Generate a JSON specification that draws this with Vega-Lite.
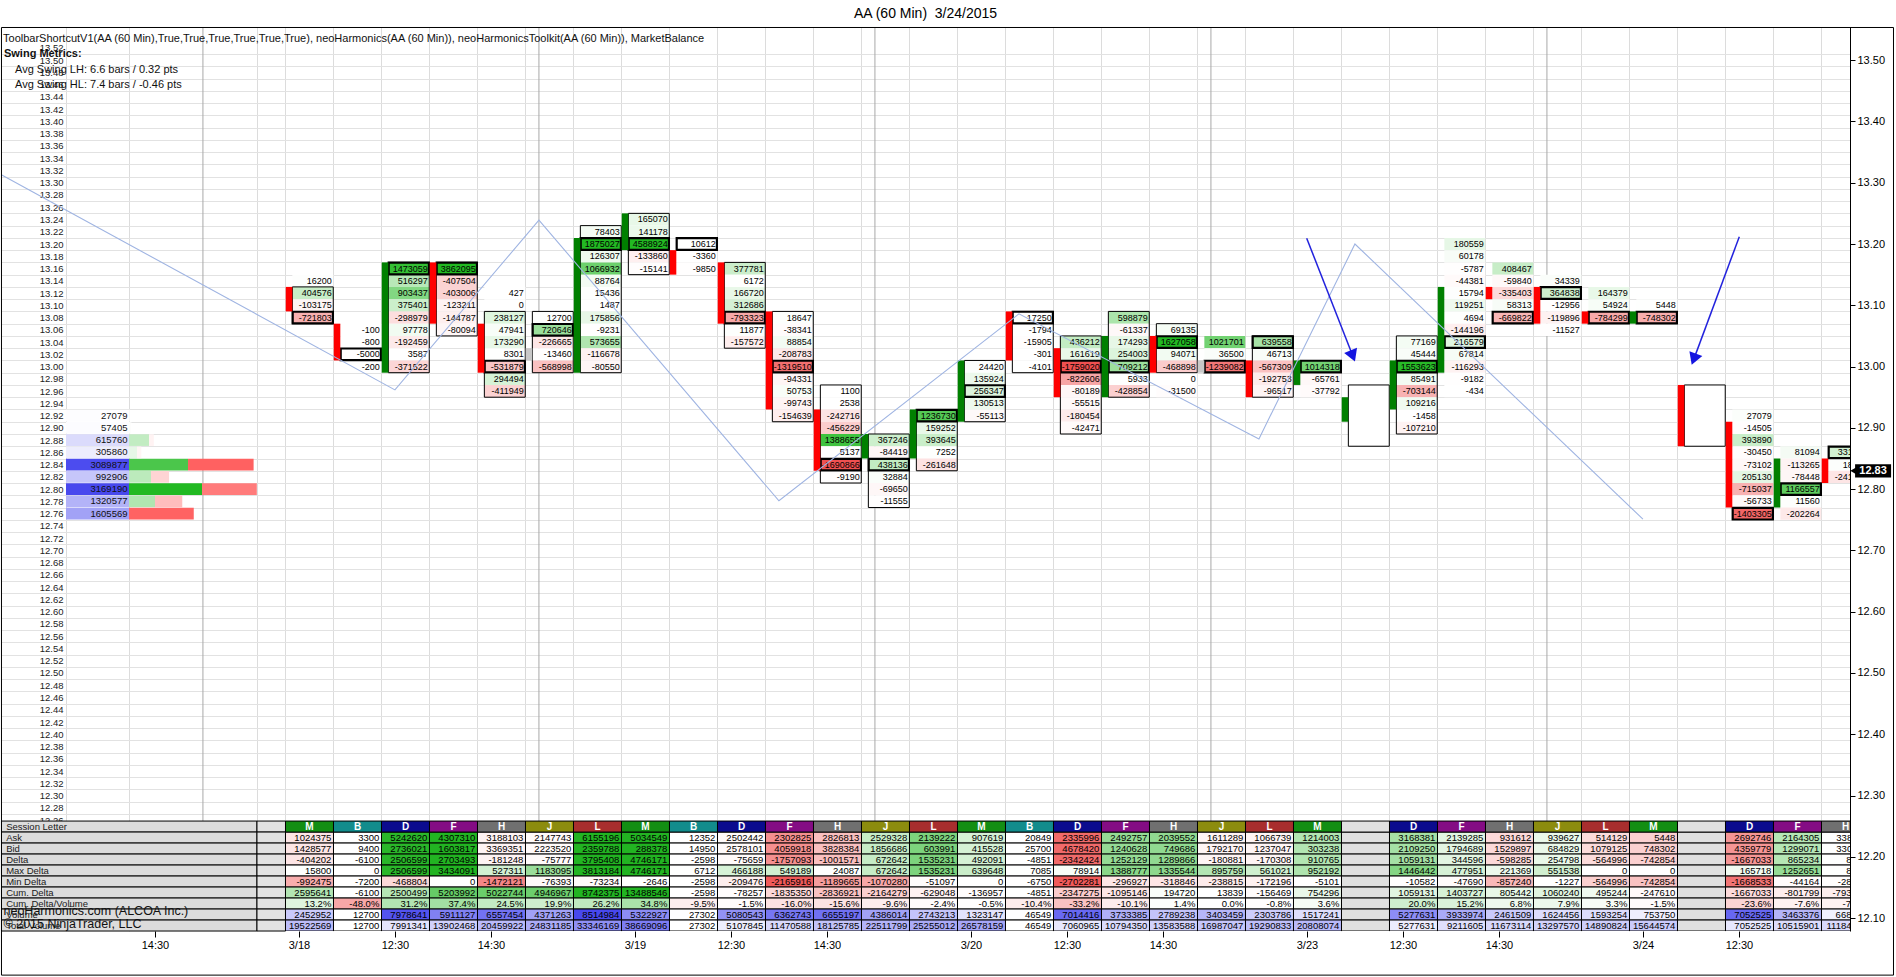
{
"$schema": "https://vega.github.io/schema/vega-lite/v6.json",
"width": 1849, "height": 904,
"autosize": {"type": "none"},
"padding": {"left": 1, "top": 27, "right": 46, "bottom": 46},
"background": "white",
"title": {"text": "AA (60 Min)\u00a0 3/24/2015", "anchor": "middle", "offset": 6, "fontSize": 14, "font": "Liberation Sans", "fontWeight": "normal", "color": "black"},
"config": {"view": {"stroke": null}, "font": "Liberation Sans"},
"datasets": {
"profile": [
{"p":12.92,"vol":27079,"ask":20000,"bid":7079},{"p":12.90,"vol":57405,"ask":40000,"bid":17405},{"p":12.88,"vol":615760,"ask":496000,"bid":119760},{"p":12.86,"vol":305860,"ask":198400,"bid":107460},{"p":12.84,"vol":3089877,"ask":1463200,"bid":1626677},{"p":12.82,"vol":992906,"ask":545600,"bid":447306},{"p":12.80,"vol":3169190,"ask":1810400,"bid":1358790},{"p":12.78,"vol":1320577,"ask":644800,"bid":675777},{"p":12.76,"vol":1605569,"ask":0,"bid":1605569}],
"seps": [{"x":-1.72},{"x":5.28},{"x":12.28},{"x":19.28},{"x":26.28}],
"bars": [
{"s":0,"o":13.12,"c":13.10,"d":"d","va1":13.12,"va2":13.08,"poc":13.08},
{"s":1,"o":13.06,"c":13.02,"d":"d","poc":13.02},
{"s":2,"o":13.00,"c":13.16,"d":"u","va1":13.16,"va2":13.00,"poc":13.16},
{"s":3,"o":13.16,"c":13.08,"d":"d","va1":13.16,"va2":13.06,"poc":13.16},
{"s":4,"o":13.06,"c":13.00,"d":"d","va1":13.08,"va2":12.96,"poc":13.00},
{"s":5,"o":13.02,"c":13.02,"d":"n","va1":13.08,"va2":13.00,"poc":13.06},
{"s":6,"o":13.00,"c":13.20,"d":"u","va1":13.22,"va2":13.00,"poc":13.20},
{"s":7,"o":13.20,"c":13.24,"d":"u","va1":13.24,"va2":13.16,"poc":13.20},
{"s":8,"o":13.18,"c":13.16,"d":"d","poc":13.20},
{"s":9,"o":13.16,"c":13.08,"d":"d","va1":13.16,"va2":13.04,"poc":13.08},
{"s":10,"o":13.08,"c":12.94,"d":"d","va1":13.08,"va2":12.92,"poc":13.00},
{"s":11,"o":12.92,"c":12.84,"d":"d","va1":12.96,"va2":12.82,"poc":12.84},
{"s":12,"o":12.86,"c":12.88,"d":"u","va1":12.88,"va2":12.78,"poc":12.84},
{"s":13,"o":12.86,"c":12.92,"d":"u","va1":12.92,"va2":12.84,"poc":12.92},
{"s":14,"o":12.92,"c":13.00,"d":"u","va1":13.00,"va2":12.92,"poc":12.96},
{"s":15,"o":13.08,"c":13.02,"d":"d","va1":13.08,"va2":13.00,"poc":13.08},
{"s":16,"o":13.02,"c":12.96,"d":"d","va1":13.04,"va2":12.90,"poc":13.00},
{"s":17,"o":12.96,"c":13.04,"d":"u","va1":13.08,"va2":12.96,"poc":13.00},
{"s":18,"o":13.04,"c":13.00,"d":"d","va1":13.06,"va2":13.00,"poc":13.04},
{"s":19,"o":13.00,"c":13.00,"d":"n","poc":13.00},
{"s":20,"o":13.00,"c":12.96,"d":"d","va1":13.04,"va2":12.96,"poc":13.04},
{"s":21,"o":12.98,"c":13.00,"d":"u","poc":13.00},
{"s":22,"o":12.92,"c":12.94,"d":"u","eh":12.96,"el":12.88},
{"s":23,"o":12.94,"c":13.00,"d":"u","va1":13.04,"va2":12.90,"poc":13.00},
{"s":24,"o":13.00,"c":13.12,"d":"u","poc":13.04},
{"s":25,"o":13.12,"c":13.12,"d":"d","poc":13.08},
{"s":26,"o":13.12,"c":13.08,"d":"d","poc":13.12},
{"s":27,"o":13.08,"c":13.08,"d":"d","poc":13.08},
{"s":28,"o":13.08,"c":13.08,"d":"u","poc":13.08},
{"s":29,"o":12.96,"c":12.88,"d":"d","eh":12.96,"el":12.88},
{"s":30,"o":12.90,"c":12.78,"d":"d","poc":12.76},
{"s":31,"o":12.78,"c":12.84,"d":"u","poc":12.80},
{"s":32,"o":12.84,"c":12.82,"d":"d","poc":12.86}],
"cells": [
{"s":0,"p":13.14,"v":16200},{"s":0,"p":13.12,"v":404576},{"s":0,"p":13.10,"v":-103175},{"s":0,"p":13.08,"v":-721803},
{"s":1,"p":13.06,"v":-100},{"s":1,"p":13.04,"v":-800},{"s":1,"p":13.02,"v":-5000},{"s":1,"p":13.00,"v":-200},
{"s":2,"p":13.16,"v":1473059},{"s":2,"p":13.14,"v":516297},{"s":2,"p":13.12,"v":903437},{"s":2,"p":13.10,"v":375401},{"s":2,"p":13.08,"v":-298979},{"s":2,"p":13.06,"v":97778},{"s":2,"p":13.04,"v":-192459},{"s":2,"p":13.02,"v":3587},{"s":2,"p":13.00,"v":-371522},
{"s":3,"p":13.16,"v":3862095},{"s":3,"p":13.14,"v":-407504},{"s":3,"p":13.12,"v":-403006},{"s":3,"p":13.10,"v":-123211},{"s":3,"p":13.08,"v":-144787},{"s":3,"p":13.06,"v":-80094},
{"s":4,"p":13.12,"v":427},{"s":4,"p":13.10,"v":0},{"s":4,"p":13.08,"v":238127},{"s":4,"p":13.06,"v":47941},{"s":4,"p":13.04,"v":173290},{"s":4,"p":13.02,"v":8301},{"s":4,"p":13.00,"v":-531879},{"s":4,"p":12.98,"v":294494},{"s":4,"p":12.96,"v":-411949},
{"s":5,"p":13.08,"v":12700},{"s":5,"p":13.06,"v":720646},{"s":5,"p":13.04,"v":-226665},{"s":5,"p":13.02,"v":-13460},{"s":5,"p":13.00,"v":-568998},
{"s":6,"p":13.22,"v":78403},{"s":6,"p":13.20,"v":1875027},{"s":6,"p":13.18,"v":126307},{"s":6,"p":13.16,"v":1066932},{"s":6,"p":13.14,"v":88764},{"s":6,"p":13.12,"v":15436},{"s":6,"p":13.10,"v":1487},{"s":6,"p":13.08,"v":175856},{"s":6,"p":13.06,"v":-9231},{"s":6,"p":13.04,"v":573655},{"s":6,"p":13.02,"v":-116678},{"s":6,"p":13.00,"v":-80550},
{"s":7,"p":13.24,"v":165070},{"s":7,"p":13.22,"v":141178},{"s":7,"p":13.20,"v":4588924},{"s":7,"p":13.18,"v":-133860},{"s":7,"p":13.16,"v":-15141},
{"s":8,"p":13.20,"v":10612},{"s":8,"p":13.18,"v":-3360},{"s":8,"p":13.16,"v":-9850},
{"s":9,"p":13.16,"v":377781},{"s":9,"p":13.14,"v":6172},{"s":9,"p":13.12,"v":166720},{"s":9,"p":13.10,"v":312686},{"s":9,"p":13.08,"v":-793323},{"s":9,"p":13.06,"v":11877},{"s":9,"p":13.04,"v":-157572},
{"s":10,"p":13.08,"v":18647},{"s":10,"p":13.06,"v":-38341},{"s":10,"p":13.04,"v":88854},{"s":10,"p":13.02,"v":-208783},{"s":10,"p":13.00,"v":-1319510},{"s":10,"p":12.98,"v":-94331},{"s":10,"p":12.96,"v":50753},{"s":10,"p":12.94,"v":-99743},{"s":10,"p":12.92,"v":-154639},
{"s":11,"p":12.96,"v":1100},{"s":11,"p":12.94,"v":2538},{"s":11,"p":12.92,"v":-242716},{"s":11,"p":12.90,"v":-456229},{"s":11,"p":12.88,"v":1388655},{"s":11,"p":12.86,"v":5137},{"s":11,"p":12.84,"v":-1690866},{"s":11,"p":12.82,"v":-9190},
{"s":12,"p":12.88,"v":367246},{"s":12,"p":12.86,"v":-84419},{"s":12,"p":12.84,"v":438136},{"s":12,"p":12.82,"v":32884},{"s":12,"p":12.80,"v":-69650},{"s":12,"p":12.78,"v":-11555},
{"s":13,"p":12.92,"v":1236730},{"s":13,"p":12.90,"v":159252},{"s":13,"p":12.88,"v":393645},{"s":13,"p":12.86,"v":7252},{"s":13,"p":12.84,"v":-261648},
{"s":14,"p":13.00,"v":24420},{"s":14,"p":12.98,"v":135924},{"s":14,"p":12.96,"v":256347},{"s":14,"p":12.94,"v":130513},{"s":14,"p":12.92,"v":-55113},
{"s":15,"p":13.08,"v":17250},{"s":15,"p":13.06,"v":-1794},{"s":15,"p":13.04,"v":-15905},{"s":15,"p":13.02,"v":-301},{"s":15,"p":13.00,"v":-4101},
{"s":16,"p":13.04,"v":436212},{"s":16,"p":13.02,"v":161619},{"s":16,"p":13.00,"v":-1759020},{"s":16,"p":12.98,"v":-822606},{"s":16,"p":12.96,"v":-80189},{"s":16,"p":12.94,"v":-55515},{"s":16,"p":12.92,"v":-180454},{"s":16,"p":12.90,"v":-42471},
{"s":17,"p":13.08,"v":598879},{"s":17,"p":13.06,"v":-61337},{"s":17,"p":13.04,"v":174293},{"s":17,"p":13.02,"v":254003},{"s":17,"p":13.00,"v":709212},{"s":17,"p":12.98,"v":5933},{"s":17,"p":12.96,"v":-428854},
{"s":18,"p":13.06,"v":69135},{"s":18,"p":13.04,"v":1627058},{"s":18,"p":13.02,"v":94071},{"s":18,"p":13.00,"v":-468898},{"s":18,"p":12.98,"v":0},{"s":18,"p":12.96,"v":-31500},
{"s":19,"p":13.04,"v":1021701},{"s":19,"p":13.02,"v":36500},{"s":19,"p":13.00,"v":-1239082},
{"s":20,"p":13.04,"v":639558},{"s":20,"p":13.02,"v":46713},{"s":20,"p":13.00,"v":-567309},{"s":20,"p":12.98,"v":-192753},{"s":20,"p":12.96,"v":-96517},
{"s":21,"p":13.00,"v":1014318},{"s":21,"p":12.98,"v":-65761},{"s":21,"p":12.96,"v":-37792},
{"s":23,"p":13.04,"v":77169},{"s":23,"p":13.02,"v":45444},{"s":23,"p":13.00,"v":1553623},{"s":23,"p":12.98,"v":85491},{"s":23,"p":12.96,"v":-703144},{"s":23,"p":12.94,"v":109216},{"s":23,"p":12.92,"v":-1458},{"s":23,"p":12.90,"v":-107210},
{"s":24,"p":13.20,"v":180559},{"s":24,"p":13.18,"v":60178},{"s":24,"p":13.16,"v":-5787},{"s":24,"p":13.14,"v":-44381},{"s":24,"p":13.12,"v":15794},{"s":24,"p":13.10,"v":119251},{"s":24,"p":13.08,"v":4694},{"s":24,"p":13.06,"v":-144196},{"s":24,"p":13.04,"v":216579},{"s":24,"p":13.02,"v":67814},{"s":24,"p":13.00,"v":-116293},{"s":24,"p":12.98,"v":-9182},{"s":24,"p":12.96,"v":-434},
{"s":25,"p":13.16,"v":408467},{"s":25,"p":13.14,"v":-59840},{"s":25,"p":13.12,"v":-335403},{"s":25,"p":13.10,"v":58313},{"s":25,"p":13.08,"v":-669822},
{"s":26,"p":13.14,"v":34339},{"s":26,"p":13.12,"v":364838},{"s":26,"p":13.10,"v":-12956},{"s":26,"p":13.08,"v":-119896},{"s":26,"p":13.06,"v":-11527},
{"s":27,"p":13.12,"v":164379},{"s":27,"p":13.10,"v":54924},{"s":27,"p":13.08,"v":-784299},
{"s":28,"p":13.10,"v":5448},{"s":28,"p":13.08,"v":-748302},
{"s":30,"p":12.92,"v":27079},{"s":30,"p":12.90,"v":-14505},{"s":30,"p":12.88,"v":393890},{"s":30,"p":12.86,"v":-30450},{"s":30,"p":12.84,"v":-73102},{"s":30,"p":12.82,"v":205130},{"s":30,"p":12.80,"v":-715037},{"s":30,"p":12.78,"v":-56733},{"s":30,"p":12.76,"v":-1403305},
{"s":31,"p":12.86,"v":81094},{"s":31,"p":12.84,"v":-113265},{"s":31,"p":12.82,"v":-78448},{"s":31,"p":12.80,"v":1166557},{"s":31,"p":12.78,"v":11560},{"s":31,"p":12.76,"v":-202264},
{"s":32,"p":12.86,"v":331200},{"s":32,"p":12.84,"v":18400},{"s":32,"p":12.82,"v":-241300}],
"swing": [{"x":-5.92,"y":13.313},{"x":2.28,"y":12.962},{"x":5.28,"y":13.239},{"x":10.28,"y":12.781},{"x":15.28,"y":13.086},{"x":20.28,"y":12.882},{"x":22.28,"y":13.2},{"x":28.28,"y":12.751}],
"arrows": [{"sx":21.275,"sy":13.2095,"hx":22.22,"hy":13.0204},{"sx":30.288,"sy":13.212,"hx":29.354,"hy":13.015}],
"tlabels": [{"r":0,"name":"Session Letter"},{"r":1,"name":"Ask"},{"r":2,"name":"Bid"},{"r":3,"name":"Delta"},{"r":4,"name":"Max Delta"},{"r":5,"name":"Min Delta"},{"r":6,"name":"Cum. Delta"},{"r":7,"name":"Cum. Delta/Volume"},{"r":8,"name":"Volume"},{"r":9,"name":"Total Volume"}],
"notes": [{"k":"legend","t":"ToolbarShortcutV1(AA (60 Min),True,True,True,True,True,True), neoHarmonics(AA (60 Min)), neoHarmonicsToolkit(AA (60 Min)), MarketBalance"},{"k":"swing","t":"Swing Metrics:"},{"k":"lh","t":"Avg Swing LH: 6.6 bars / 0.32 pts"},{"k":"hl","t":"Avg Swing HL: 7.4 bars / -0.46 pts"},{"k":"f1","t":"neoHarmonics.com (ALCOA Inc.)"},{"k":"f2","t":"© 2015 NinjaTrader, LLC"}],
"table": [
{"s":0,"L":"M","ask":1024375,"bid":1428577,"delta":-404202,"maxd":15800,"mind":-992475,"cumd":2595641,"cdv":13.2,"vol":2452952,"tvol":19522569},
{"s":1,"L":"B","ask":3300,"bid":9400,"delta":-6100,"maxd":0,"mind":-7200,"cumd":-6100,"cdv":-48.0,"vol":12700,"tvol":12700},
{"s":2,"L":"D","ask":5242620,"bid":2736021,"delta":2506599,"maxd":2506599,"mind":-468804,"cumd":2500499,"cdv":31.2,"vol":7978641,"tvol":7991341},
{"s":3,"L":"F","ask":4307310,"bid":1603817,"delta":2703493,"maxd":3434091,"mind":0,"cumd":5203992,"cdv":37.4,"vol":5911127,"tvol":13902468},
{"s":4,"L":"H","ask":3188103,"bid":3369351,"delta":-181248,"maxd":527311,"mind":-1472121,"cumd":5022744,"cdv":24.5,"vol":6557454,"tvol":20459922},
{"s":5,"L":"J","ask":2147743,"bid":2223520,"delta":-75777,"maxd":1183095,"mind":-76393,"cumd":4946967,"cdv":19.9,"vol":4371263,"tvol":24831185},
{"s":6,"L":"L","ask":6155196,"bid":2359788,"delta":3795408,"maxd":3813184,"mind":-73234,"cumd":8742375,"cdv":26.2,"vol":8514984,"tvol":33346169},
{"s":7,"L":"M","ask":5034549,"bid":288378,"delta":4746171,"maxd":4746171,"mind":-2646,"cumd":13488546,"cdv":34.8,"vol":5322927,"tvol":38669096},
{"s":8,"L":"B","ask":12352,"bid":14950,"delta":-2598,"maxd":6712,"mind":-2598,"cumd":-2598,"cdv":-9.5,"vol":27302,"tvol":27302},
{"s":9,"L":"D","ask":2502442,"bid":2578101,"delta":-75659,"maxd":466188,"mind":-209476,"cumd":-78257,"cdv":-1.5,"vol":5080543,"tvol":5107845},
{"s":10,"L":"F","ask":2302825,"bid":4059918,"delta":-1757093,"maxd":549189,"mind":-2165916,"cumd":-1835350,"cdv":-16.0,"vol":6362743,"tvol":11470588},
{"s":11,"L":"H","ask":2826813,"bid":3828384,"delta":-1001571,"maxd":24087,"mind":-1189665,"cumd":-2836921,"cdv":-15.6,"vol":6655197,"tvol":18125785},
{"s":12,"L":"J","ask":2529328,"bid":1856686,"delta":672642,"maxd":672642,"mind":-1070280,"cumd":-2164279,"cdv":-9.6,"vol":4386014,"tvol":22511799},
{"s":13,"L":"L","ask":2139222,"bid":603991,"delta":1535231,"maxd":1535231,"mind":-51097,"cumd":-629048,"cdv":-2.4,"vol":2743213,"tvol":25255012},
{"s":14,"L":"M","ask":907619,"bid":415528,"delta":492091,"maxd":639648,"mind":0,"cumd":-136957,"cdv":-0.5,"vol":1323147,"tvol":26578159},
{"s":15,"L":"B","ask":20849,"bid":25700,"delta":-4851,"maxd":7085,"mind":-6750,"cumd":-4851,"cdv":-10.4,"vol":46549,"tvol":46549},
{"s":16,"L":"D","ask":2335996,"bid":4678420,"delta":-2342424,"maxd":78914,"mind":-2702281,"cumd":-2347275,"cdv":-33.2,"vol":7014416,"tvol":7060965},
{"s":17,"L":"F","ask":2492757,"bid":1240628,"delta":1252129,"maxd":1388777,"mind":-296927,"cumd":-1095146,"cdv":-10.1,"vol":3733385,"tvol":10794350},
{"s":18,"L":"H","ask":2039552,"bid":749686,"delta":1289866,"maxd":1335544,"mind":-318846,"cumd":194720,"cdv":1.4,"vol":2789238,"tvol":13583588},
{"s":19,"L":"J","ask":1611289,"bid":1792170,"delta":-180881,"maxd":895759,"mind":-238815,"cumd":13839,"cdv":0.0,"vol":3403459,"tvol":16987047},
{"s":20,"L":"L","ask":1066739,"bid":1237047,"delta":-170308,"maxd":561021,"mind":-172196,"cumd":-156469,"cdv":-0.8,"vol":2303786,"tvol":19290833},
{"s":21,"L":"M","ask":1214003,"bid":303238,"delta":910765,"maxd":952192,"mind":-5101,"cumd":754296,"cdv":3.6,"vol":1517241,"tvol":20808074},
{"s":22,"L":""},
{"s":23,"L":"D","ask":3168381,"bid":2109250,"delta":1059131,"maxd":1446442,"mind":-10582,"cumd":1059131,"cdv":20.0,"vol":5277631,"tvol":5277631},
{"s":24,"L":"F","ask":2139285,"bid":1794689,"delta":344596,"maxd":477951,"mind":-47690,"cumd":1403727,"cdv":15.2,"vol":3933974,"tvol":9211605},
{"s":25,"L":"H","ask":931612,"bid":1529897,"delta":-598285,"maxd":221369,"mind":-857240,"cumd":805442,"cdv":6.8,"vol":2461509,"tvol":11673114},
{"s":26,"L":"J","ask":939627,"bid":684829,"delta":254798,"maxd":551538,"mind":-1227,"cumd":1060240,"cdv":7.9,"vol":1624456,"tvol":13297570},
{"s":27,"L":"L","ask":514129,"bid":1079125,"delta":-564996,"maxd":0,"mind":-564996,"cumd":495244,"cdv":3.3,"vol":1593254,"tvol":14890824},
{"s":28,"L":"M","ask":5448,"bid":748302,"delta":-742854,"maxd":0,"mind":-742854,"cumd":-247610,"cdv":-1.5,"vol":753750,"tvol":15644574},
{"s":29,"L":""},
{"s":30,"L":"D","ask":2692746,"bid":4359779,"delta":-1667033,"maxd":165718,"mind":-1668533,"cumd":-1667033,"cdv":-23.6,"vol":7052525,"tvol":7052525},
{"s":31,"L":"F","ask":2164305,"bid":1299071,"delta":865234,"maxd":1252651,"mind":-44164,"cumd":-801799,"cdv":-7.6,"vol":3463376,"tvol":10515901},
{"s":32,"L":"H","ask":338311,"bid":330011,"delta":8300,"maxd":8300,"mind":-28100,"cumd":-793499,"cdv":-7.1,"vol":668322,"tvol":11184223}]
},
"layer": [
{"data": {"name": "seps"},
 "mark": {"type": "rule", "color": "#A9A9A9", "strokeWidth": 1},
 "encoding": {
  "x": {"field": "x", "type": "quantitative", "scale": {"domain": [-5.927, 32.594], "nice": false, "zero": false}, "axis": null}}},
{"data": {"name": "profile"},
 "transform": [{"calculate": "datum.p + 0.0095", "as": "y1"}, {"calculate": "datum.p - 0.0095", "as": "y2"}, {"calculate": "-4.573", "as": "bx1"}, {"calculate": "-3.26", "as": "bx2"}, {"calculate": "min(datum.vol / 3200000, 1)", "as": "t"},
  {"calculate": "'rgb(' + round(255 - 185 * datum.t) + ',' + round(255 - 185 * datum.t) + ',' + round(255 - 17 * datum.t) + ')'", "as": "col"}],
 "mark": {"type": "rect"},
 "encoding": {
  "x": {"field": "bx1", "type": "quantitative", "scale": {"domain": [-5.927, 32.594], "nice": false, "zero": false}, "axis": null},
  "x2": {"field": "bx2"},
  "y": {"field": "y1", "type": "quantitative", "scale": {"domain": [12.079, 13.5541], "nice": false, "zero": false}, "axis": null},
  "y2": {"field": "y2"},
  "color": {"field": "col", "type": "nominal", "scale": null}}},
{"data": {"name": "profile"},
 "transform": [{"calculate": "datum.p + 0.0095", "as": "y1"}, {"calculate": "datum.p - 0.0095", "as": "y2"}, {"calculate": "-3.26", "as": "g0"}, {"calculate": "-3.26 + datum.ask / 1190400", "as": "g1"}, {"calculate": "min(datum.ask / 1800000, 1)", "as": "t"},
  {"calculate": "'rgb(' + round(255 - 221 * datum.t) + ',' + round(255 - 70 * datum.t) + ',' + round(255 - 221 * datum.t) + ')'", "as": "col"}],
 "mark": {"type": "rect"},
 "encoding": {
  "x": {"field": "g0", "type": "quantitative", "scale": {"domain": [-5.927, 32.594], "nice": false, "zero": false}, "axis": null},
  "x2": {"field": "g1"},
  "y": {"field": "y1", "type": "quantitative", "scale": {"domain": [12.079, 13.5541], "nice": false, "zero": false}, "axis": null},
  "y2": {"field": "y2"},
  "color": {"field": "col", "type": "nominal", "scale": null}}},
{"data": {"name": "profile"},
 "transform": [{"calculate": "datum.p + 0.0095", "as": "y1"}, {"calculate": "datum.p - 0.0095", "as": "y2"}, {"calculate": "-3.26 + datum.ask / 1190400", "as": "g1"}, {"calculate": "datum.g1 + datum.bid / 1190400", "as": "g2"}, {"calculate": "min(datum.bid / 1650000, 1)", "as": "t"},
  {"calculate": "'rgb(255,' + round(255 - 160 * datum.t) + ',' + round(255 - 160 * datum.t) + ')'", "as": "col"}],
 "mark": {"type": "rect"},
 "encoding": {
  "x": {"field": "g1", "type": "quantitative", "scale": {"domain": [-5.927, 32.594], "nice": false, "zero": false}, "axis": null},
  "x2": {"field": "g2"},
  "y": {"field": "y1", "type": "quantitative", "scale": {"domain": [12.079, 13.5541], "nice": false, "zero": false}, "axis": null},
  "y2": {"field": "y2"},
  "color": {"field": "col", "type": "nominal", "scale": null}}},
{"data": {"name": "profile"},
 "transform": [{"calculate": "'' + datum.vol", "as": "txt"}, {"calculate": "-3.292", "as": "tx"}],
 "mark": {"type": "text", "align": "right", "baseline": "middle", "fontSize": 9.5, "color": "#111111"},
 "encoding": {
  "x": {"field": "tx", "type": "quantitative", "scale": {"domain": [-5.927, 32.594], "nice": false, "zero": false}, "axis": null},
  "y": {"field": "p", "type": "quantitative", "scale": {"domain": [12.079, 13.5541], "nice": false, "zero": false}, "axis": null},
  "text": {"field": "txt", "type": "nominal"}}},
{"data": {"name": "cells"},
 "transform": [{"calculate": "datum.s + 0.143", "as": "x1"}, {"calculate": "datum.s + 0.995", "as": "x2"}, {"calculate": "datum.p + 0.01", "as": "y1"}, {"calculate": "datum.p - 0.01", "as": "y2"}, {"calculate": "clamp(datum.v / 1600000, -1, 1)", "as": "t"},
  {"calculate": "datum.t >= 0 ? 'rgb(' + round(255 - 221 * datum.t) + ',' + round(255 - 70 * datum.t) + ',' + round(255 - 221 * datum.t) + ')' : 'rgb(' + round(255 + 15 * datum.t) + ',' + round(255 + 175 * datum.t) + ',' + round(255 + 175 * datum.t) + ')'", "as": "col"}],
 "mark": {"type": "rect", "clip": true},
 "encoding": {
  "x": {"field": "x1", "type": "quantitative", "scale": {"domain": [-5.927, 32.594], "nice": false, "zero": false},
   "axis": {"orient": "bottom", "title": null, "values": [-2.72,0.28,2.28,4.28,7.28,9.28,11.28,14.28,16.28,18.28,21.28,23.28,25.28,28.28,30.28],
    "labelExpr": "['14:30','3/18','12:30','14:30','3/19','12:30','14:30','3/20','12:30','14:30','3/23','12:30','14:30','3/24','12:30'][indexof([-272,28,228,428,728,928,1128,1428,1628,1828,2128,2328,2528,2828,3028], round(datum.value*100))]",
    "domain": false, "tickSize": 6, "tickColor": "black", "grid": false,
    "labelFontSize": 11, "labelColor": "black", "labelPadding": 2, "labelFlush": false, "labelOverlap": false, "labelBound": false}},
  "x2": {"field": "x2"},
  "y": {"field": "y1", "type": "quantitative", "scale": {"domain": [12.079, 13.5541], "nice": false, "zero": false},
   "axis": {"orient": "left", "title": null, "offset": -63, "values": [12.26,12.28,12.30,12.32,12.34,12.36,12.38,12.40,12.42,12.44,12.46,12.48,12.50,12.52,12.54,12.56,12.58,12.60,12.62,12.64,12.66,12.68,12.70,12.72,12.74,12.76,12.78,12.80,12.82,12.84,12.86,12.88,12.90,12.92,12.94,12.96,12.98,13.00,13.02,13.04,13.06,13.08,13.10,13.12,13.14,13.16,13.18,13.20,13.22,13.24,13.26,13.28,13.30,13.32,13.34,13.36,13.38,13.40,13.42,13.44,13.46,13.48,13.50,13.52],
    "format": ".2f", "domain": false, "ticks": false, "labelPadding": 1, "labelFontSize": 9.5, "labelColor": "#222222", "labelFlush": false, "labelOverlap": false, "labelBound": false,
    "grid": true, "gridColor": "#E2E2E2", "tickOffset": 6.13, "labelOffset": -6.13}},
  "y2": {"field": "y2"},
  "color": {"field": "col", "type": "nominal", "scale": null}}},
{"data": {"name": "cells"},
 "transform": [{"calculate": "datum.s + 0.965", "as": "tx"}, {"calculate": "'' + datum.v", "as": "txt"}],
 "mark": {"type": "text", "align": "right", "baseline": "middle", "fontSize": 9, "color": "black", "clip": true},
 "encoding": {
  "x": {"field": "tx", "type": "quantitative", "scale": {"domain": [-5.927, 32.594], "nice": false, "zero": false}, "axis": null},
  "y": {"field": "p", "type": "quantitative", "scale": {"domain": [12.079, 13.5541], "nice": false, "zero": false}, "axis": null},
  "text": {"field": "txt", "type": "nominal"}}},
{"data": {"name": "bars"},
 "transform": [{"filter": "isValid(datum.va1)"}, {"calculate": "datum.s + 0.143", "as": "x1"}, {"calculate": "datum.s + 0.995", "as": "x2"}, {"calculate": "datum.va1 + 0.01", "as": "y1"}, {"calculate": "datum.va2 - 0.01", "as": "y2"}],
 "mark": {"type": "rect", "fillOpacity": 0, "stroke": "black", "strokeWidth": 1, "clip": true},
 "encoding": {
  "x": {"field": "x1", "type": "quantitative", "scale": {"domain": [-5.927, 32.594], "nice": false, "zero": false}, "axis": null},
  "x2": {"field": "x2"},
  "y": {"field": "y1", "type": "quantitative", "scale": {"domain": [12.079, 13.5541], "nice": false, "zero": false}, "axis": null},
  "y2": {"field": "y2"}}},
{"data": {"name": "bars"},
 "transform": [{"filter": "isValid(datum.poc)"}, {"calculate": "datum.s + 0.15", "as": "x1"}, {"calculate": "datum.s + 0.988", "as": "x2"}, {"calculate": "datum.poc + 0.0095", "as": "y1"}, {"calculate": "datum.poc - 0.0095", "as": "y2"}],
 "mark": {"type": "rect", "fillOpacity": 0, "stroke": "black", "strokeWidth": 2.2, "clip": true},
 "encoding": {
  "x": {"field": "x1", "type": "quantitative", "scale": {"domain": [-5.927, 32.594], "nice": false, "zero": false}, "axis": null},
  "x2": {"field": "x2"},
  "y": {"field": "y1", "type": "quantitative", "scale": {"domain": [12.079, 13.5541], "nice": false, "zero": false}, "axis": null},
  "y2": {"field": "y2"}}},
{"data": {"name": "bars"},
 "transform": [{"filter": "isValid(datum.eh)"}, {"calculate": "datum.s + 0.143", "as": "x1"}, {"calculate": "datum.s + 0.995", "as": "x2"}, {"calculate": "datum.eh + 0.01", "as": "y1"}, {"calculate": "datum.el - 0.01", "as": "y2"}],
 "mark": {"type": "rect", "fill": "white", "stroke": "black", "strokeWidth": 1, "clip": true},
 "encoding": {
  "x": {"field": "x1", "type": "quantitative", "scale": {"domain": [-5.927, 32.594], "nice": false, "zero": false}, "axis": null},
  "x2": {"field": "x2"},
  "y": {"field": "y1", "type": "quantitative", "scale": {"domain": [12.079, 13.5541], "nice": false, "zero": false}, "axis": null},
  "y2": {"field": "y2"}}},
{"data": {"name": "bars"},
 "transform": [{"calculate": "datum.s + 0.005", "as": "cx1"}, {"calculate": "datum.s + 0.142", "as": "cx2"}, {"calculate": "max(datum.o, datum.c) + 0.01", "as": "top"}, {"calculate": "min(datum.o, datum.c) - 0.01", "as": "bot"},
  {"calculate": "datum.d == 'u' ? '#008000' : datum.d == 'd' ? '#FF0000' : '#C8C8C8'", "as": "col"}],
 "mark": {"type": "rect", "clip": true},
 "encoding": {
  "x": {"field": "cx1", "type": "quantitative", "scale": {"domain": [-5.927, 32.594], "nice": false, "zero": false},
   "axis": {"orient": "top", "title": null, "values": [-4.573,-3.26,-0.594,0,1,2,3,4,5,6,7,8,9,10,11,12,13,14,15,16,17,18,19,20,21,22,23,24,25,26,27,28,29,30,31,32], "labels": false, "ticks": false, "domain": false, "grid": true, "gridColor": "#DCDCDC"}},
  "x2": {"field": "cx2"},
  "y": {"field": "top", "type": "quantitative", "scale": {"domain": [12.079, 13.5541], "nice": false, "zero": false},
   "axis": {"orient": "right", "title": null, "values": [12.1,12.2,12.3,12.4,12.5,12.6,12.7,12.8,12.9,13.0,13.1,13.2,13.3,13.4,13.5], "format": ".2f", "tickSize": 5, "tickColor": "black", "domainColor": "black", "labelFontSize": 11, "labelColor": "black", "labelPadding": 2, "grid": false, "zindex": 1, "labelFlush": false, "labelOverlap": false, "labelBound": false}},
  "y2": {"field": "bot"},
  "color": {"field": "col", "type": "nominal", "scale": null}}},
{"data": {"name": "swing"},
 "mark": {"type": "line", "color": "#9FB4E2", "strokeWidth": 1.1, "clip": true},
 "encoding": {
  "x": {"field": "x", "type": "quantitative", "scale": {"domain": [-5.927, 32.594], "nice": false, "zero": false}, "axis": null},
  "y": {"field": "y", "type": "quantitative", "scale": {"domain": [12.079, 13.5541], "nice": false, "zero": false}, "axis": null}}},
{"data": {"name": "arrows"},
 "mark": {"type": "rule", "color": "#2222DD", "strokeWidth": 1.5},
 "encoding": {
  "x": {"field": "sx", "type": "quantitative", "scale": {"domain": [-5.927, 32.594], "nice": false, "zero": false}, "axis": null},
  "y": {"field": "sy", "type": "quantitative", "scale": {"domain": [12.079, 13.5541], "nice": false, "zero": false}, "axis": null},
  "x2": {"field": "hx"},
  "y2": {"field": "hy"}}},
{"data": {"name": "arrows"},
 "transform": [{"filter": "datum.hx > datum.sx"}],
 "mark": {"type": "point", "shape": "triangle", "filled": true, "color": "#1515E0", "size": 190, "opacity": 1, "angle": 158.6},
 "encoding": {
  "x": {"field": "hx", "type": "quantitative", "scale": {"domain": [-5.927, 32.594], "nice": false, "zero": false}, "axis": null},
  "y": {"field": "hy", "type": "quantitative", "scale": {"domain": [12.079, 13.5541], "nice": false, "zero": false}, "axis": null}}},
{"data": {"name": "arrows"},
 "transform": [{"filter": "datum.hx < datum.sx"}],
 "mark": {"type": "point", "shape": "triangle", "filled": true, "color": "#1515E0", "size": 190, "opacity": 1, "angle": 200.4},
 "encoding": {
  "x": {"field": "hx", "type": "quantitative", "scale": {"domain": [-5.927, 32.594], "nice": false, "zero": false}, "axis": null},
  "y": {"field": "hy", "type": "quantitative", "scale": {"domain": [12.079, 13.5541], "nice": false, "zero": false}, "axis": null}}},
{"data": {"name": "tlabels"},
 "transform": [{"calculate": "12.2584 - datum.r * 0.017945", "as": "ty1"}, {"calculate": "12.2584 - (datum.r + 1) * 0.017945", "as": "ty2"}, {"calculate": "-5.917", "as": "lx1"}, {"calculate": "-0.594", "as": "lx2"}],
 "mark": {"type": "rect", "fill": "#DCDCDC", "stroke": "black", "strokeWidth": 1},
 "encoding": {
  "x": {"field": "lx1", "type": "quantitative", "scale": {"domain": [-5.927, 32.594], "nice": false, "zero": false}, "axis": null},
  "x2": {"field": "lx2"},
  "y": {"field": "ty1", "type": "quantitative", "scale": {"domain": [12.079, 13.5541], "nice": false, "zero": false}, "axis": null},
  "y2": {"field": "ty2"}}},
{"data": {"name": "tlabels"},
 "transform": [{"calculate": "12.2584 - datum.r * 0.017945", "as": "ty1"}, {"calculate": "12.2584 - (datum.r + 1) * 0.017945", "as": "ty2"}, {"calculate": "-0.594", "as": "lx1"}, {"calculate": "0", "as": "lx2"}],
 "mark": {"type": "rect", "fill": "#E2E2E2", "stroke": "black", "strokeWidth": 1},
 "encoding": {
  "x": {"field": "lx1", "type": "quantitative", "scale": {"domain": [-5.927, 32.594], "nice": false, "zero": false}, "axis": null},
  "x2": {"field": "lx2"},
  "y": {"field": "ty1", "type": "quantitative", "scale": {"domain": [12.079, 13.5541], "nice": false, "zero": false}, "axis": null},
  "y2": {"field": "ty2"}}},
{"data": {"name": "tlabels"},
 "transform": [{"calculate": "12.2584 - (datum.r + 0.5) * 0.017945", "as": "tym"}, {"calculate": "-5.82", "as": "tx"}],
 "mark": {"type": "text", "align": "left", "baseline": "middle", "fontSize": 9.5, "color": "#1A1A1A"},
 "encoding": {
  "x": {"field": "tx", "type": "quantitative", "scale": {"domain": [-5.927, 32.594], "nice": false, "zero": false}, "axis": null},
  "y": {"field": "tym", "type": "quantitative", "scale": {"domain": [12.079, 13.5541], "nice": false, "zero": false}, "axis": null},
  "text": {"field": "name", "type": "nominal"}}},
{"data": {"name": "table"},
 "transform": [
  {"fold": ["ask","bid","delta","maxd","mind","cumd","cdv","vol","tvol"], "as": ["key","value"]},
  {"calculate": "indexof(['ask','bid','delta','maxd','mind','cumd','cdv','vol','tvol'], datum.key) + 1", "as": "r"},
  {"calculate": "12.2584 - datum.r * 0.017945", "as": "ty1"},
  {"calculate": "12.2584 - (datum.r + 1) * 0.017945", "as": "ty2"},
  {"calculate": "datum.s + 1", "as": "sx2"},
  {"calculate": "datum.L == '' ? 0 : (datum.key == 'ask' || datum.key == 'bid') ? clamp(datum.delta / 2600000, -1, 1) : (datum.key == 'delta' || datum.key == 'maxd') ? clamp(datum.value / 2600000, -1, 1) : datum.key == 'mind' ? clamp(datum.value / 2000000, -1, 1) : datum.key == 'cumd' ? clamp(datum.value / 7500000, -1, 1) : datum.key == 'cdv' ? clamp(datum.value / 90, -1, 1) : datum.key == 'vol' ? clamp(datum.value / 8600000, 0, 1) : clamp(datum.value / 55000000, 0, 1)", "as": "t"},
  {"calculate": "datum.L == '' ? '#E0E0E0' : (datum.key == 'vol' || datum.key == 'tvol') ? 'rgb(' + round(255 - 185 * datum.t) + ',' + round(255 - 185 * datum.t) + ',' + round(255 - 17 * datum.t) + ')' : datum.t >= 0 ? 'rgb(' + round(255 - 221 * datum.t) + ',' + round(255 - 75 * datum.t) + ',' + round(255 - 221 * datum.t) + ')' : 'rgb(' + round(255 + 15 * datum.t) + ',' + round(255 + 165 * datum.t) + ',' + round(255 + 165 * datum.t) + ')'", "as": "col"}],
 "mark": {"type": "rect", "stroke": "black", "strokeWidth": 1, "clip": true},
 "encoding": {
  "x": {"field": "s", "type": "quantitative", "scale": {"domain": [-5.927, 32.594], "nice": false, "zero": false}, "axis": null},
  "x2": {"field": "sx2"},
  "y": {"field": "ty1", "type": "quantitative", "scale": {"domain": [12.079, 13.5541], "nice": false, "zero": false}, "axis": null},
  "y2": {"field": "ty2"},
  "color": {"field": "col", "type": "nominal", "scale": null}}},
{"data": {"name": "table"},
 "transform": [
  {"fold": ["ask","bid","delta","maxd","mind","cumd","cdv","vol","tvol"], "as": ["key","value"]},
  {"filter": "datum.L != ''"},
  {"calculate": "12.2584 - (indexof(['ask','bid','delta','maxd','mind','cumd','cdv','vol','tvol'], datum.key) + 1.5) * 0.017945", "as": "tym"},
  {"calculate": "datum.s + 0.955", "as": "tx"},
  {"calculate": "datum.key == 'cdv' ? replace(format(datum.value, '.1f'), '\u2212', '-') + '%' : '' + datum.value", "as": "txt"}],
 "mark": {"type": "text", "align": "right", "baseline": "middle", "fontSize": 9.5, "color": "black", "clip": true},
 "encoding": {
  "x": {"field": "tx", "type": "quantitative", "scale": {"domain": [-5.927, 32.594], "nice": false, "zero": false}, "axis": null},
  "y": {"field": "tym", "type": "quantitative", "scale": {"domain": [12.079, 13.5541], "nice": false, "zero": false}, "axis": null},
  "text": {"field": "txt", "type": "nominal"}}},
{"data": {"name": "table"},
 "transform": [
  {"calculate": "datum.s + 1", "as": "sx2"},
  {"calculate": "12.2584", "as": "hy1"},
  {"calculate": "12.24046", "as": "hy2"},
  {"calculate": "datum.L == 'M' ? '#138E13' : datum.L == 'B' ? '#128C8C' : datum.L == 'D' ? '#0B0B8E' : datum.L == 'F' ? '#840C84' : datum.L == 'H' ? '#707070' : datum.L == 'J' ? '#8C8C0E' : datum.L == 'L' ? '#A82E2E' : '#E0E0E0'", "as": "hc"}],
 "mark": {"type": "rect", "stroke": "black", "strokeWidth": 1, "clip": true},
 "encoding": {
  "x": {"field": "s", "type": "quantitative", "scale": {"domain": [-5.927, 32.594], "nice": false, "zero": false}, "axis": null},
  "x2": {"field": "sx2"},
  "y": {"field": "hy1", "type": "quantitative", "scale": {"domain": [12.079, 13.5541], "nice": false, "zero": false}, "axis": null},
  "y2": {"field": "hy2"},
  "color": {"field": "hc", "type": "nominal", "scale": null}}},
{"data": {"name": "table"},
 "transform": [{"calculate": "datum.s + 0.5", "as": "tx"}, {"calculate": "12.24943", "as": "hym"}],
 "mark": {"type": "text", "align": "center", "baseline": "middle", "fontSize": 10, "fontWeight": "bold", "color": "white", "clip": true},
 "encoding": {
  "x": {"field": "tx", "type": "quantitative", "scale": {"domain": [-5.927, 32.594], "nice": false, "zero": false}, "axis": null},
  "y": {"field": "hym", "type": "quantitative", "scale": {"domain": [12.079, 13.5541], "nice": false, "zero": false}, "axis": null},
  "text": {"field": "L", "type": "nominal"}}},
{"data": {"name": "notes"},
 "transform": [
  {"filter": "datum.k != 'swing'"},
  {"calculate": "datum.k == 'legend' ? -5.885 : datum.k == 'lh' || datum.k == 'hl' ? -5.635 : -5.875", "as": "nx"},
  {"calculate": "datum.k == 'legend' ? 13.534 : datum.k == 'lh' ? 13.484 : datum.k == 'hl' ? 13.4595 : datum.k == 'f1' ? 12.1112 : 12.0897", "as": "ny"},
  {"calculate": "datum.k == 'f1' || datum.k == 'f2' ? 12.5 : 11", "as": "fs"}],
 "mark": {"type": "text", "align": "left", "baseline": "middle", "color": "#111111"},
 "encoding": {
  "x": {"field": "nx", "type": "quantitative", "scale": {"domain": [-5.927, 32.594], "nice": false, "zero": false}, "axis": null},
  "y": {"field": "ny", "type": "quantitative", "scale": {"domain": [12.079, 13.5541], "nice": false, "zero": false}, "axis": null},
  "size": {"field": "fs", "type": "quantitative", "scale": null},
  "text": {"field": "t", "type": "nominal"}}},
{"data": {"name": "notes"},
 "transform": [
  {"filter": "datum.k == 'swing'"},
  {"calculate": "-5.865", "as": "nx"},
  {"calculate": "13.5096", "as": "ny"}],
 "mark": {"type": "text", "align": "left", "baseline": "middle", "color": "#111111", "fontSize": 11, "fontWeight": "bold"},
 "encoding": {
  "x": {"field": "nx", "type": "quantitative", "scale": {"domain": [-5.927, 32.594], "nice": false, "zero": false}, "axis": null},
  "y": {"field": "ny", "type": "quantitative", "scale": {"domain": [12.079, 13.5541], "nice": false, "zero": false}, "axis": null},
  "text": {"field": "t", "type": "nominal"}}},
{"data": {"values": [{"lbl": "12.83"}]},
 "transform": [{"calculate": "32.70", "as": "mx1"}, {"calculate": "33.45", "as": "mx2"}, {"calculate": "12.8408", "as": "my1"}, {"calculate": "12.8192", "as": "my2"}],
 "mark": {"type": "rect", "color": "black", "clip": false},
 "encoding": {
  "x": {"field": "mx1", "type": "quantitative", "scale": {"domain": [-5.927, 32.594], "nice": false, "zero": false}, "axis": null},
  "x2": {"field": "mx2"},
  "y": {"field": "my1", "type": "quantitative", "scale": {"domain": [12.079, 13.5541], "nice": false, "zero": false}, "axis": null},
  "y2": {"field": "my2"}}},
{"data": {"values": [{"lbl": "12.83"}]},
 "transform": [{"calculate": "32.67", "as": "mx"}, {"calculate": "12.83", "as": "my"}],
 "mark": {"type": "point", "shape": "triangle-left", "filled": true, "color": "black", "size": 60, "opacity": 1, "clip": false},
 "encoding": {
  "x": {"field": "mx", "type": "quantitative", "scale": {"domain": [-5.927, 32.594], "nice": false, "zero": false}, "axis": null},
  "y": {"field": "my", "type": "quantitative", "scale": {"domain": [12.079, 13.5541], "nice": false, "zero": false}, "axis": null}}},
{"data": {"values": [{"lbl": "12.83"}]},
 "transform": [{"calculate": "33.075", "as": "mx"}, {"calculate": "12.83", "as": "my"}],
 "mark": {"type": "text", "color": "white", "fontSize": 11, "fontWeight": "bold", "align": "center", "baseline": "middle", "clip": false},
 "encoding": {
  "x": {"field": "mx", "type": "quantitative", "scale": {"domain": [-5.927, 32.594], "nice": false, "zero": false}, "axis": null},
  "y": {"field": "my", "type": "quantitative", "scale": {"domain": [12.079, 13.5541], "nice": false, "zero": false}, "axis": null},
  "text": {"field": "lbl", "type": "nominal"}}},
{"data": {"values": [{"lbl": "frame"}]},
 "transform": [{"calculate": "-5.917", "as": "fx1"}, {"calculate": "33.5", "as": "fx2"}, {"calculate": "13.5533", "as": "fy1"}, {"calculate": "12.007", "as": "fy2"}],
 "mark": {"type": "rect", "fillOpacity": 0, "stroke": "black", "strokeWidth": 1, "clip": false},
 "encoding": {
  "x": {"field": "fx1", "type": "quantitative", "scale": {"domain": [-5.927, 32.594], "nice": false, "zero": false}, "axis": null},
  "x2": {"field": "fx2"},
  "y": {"field": "fy1", "type": "quantitative", "scale": {"domain": [12.079, 13.5541], "nice": false, "zero": false}, "axis": null},
  "y2": {"field": "fy2"}}}
],
"resolve": {"axis": {"x": "independent", "y": "independent"}}
}
